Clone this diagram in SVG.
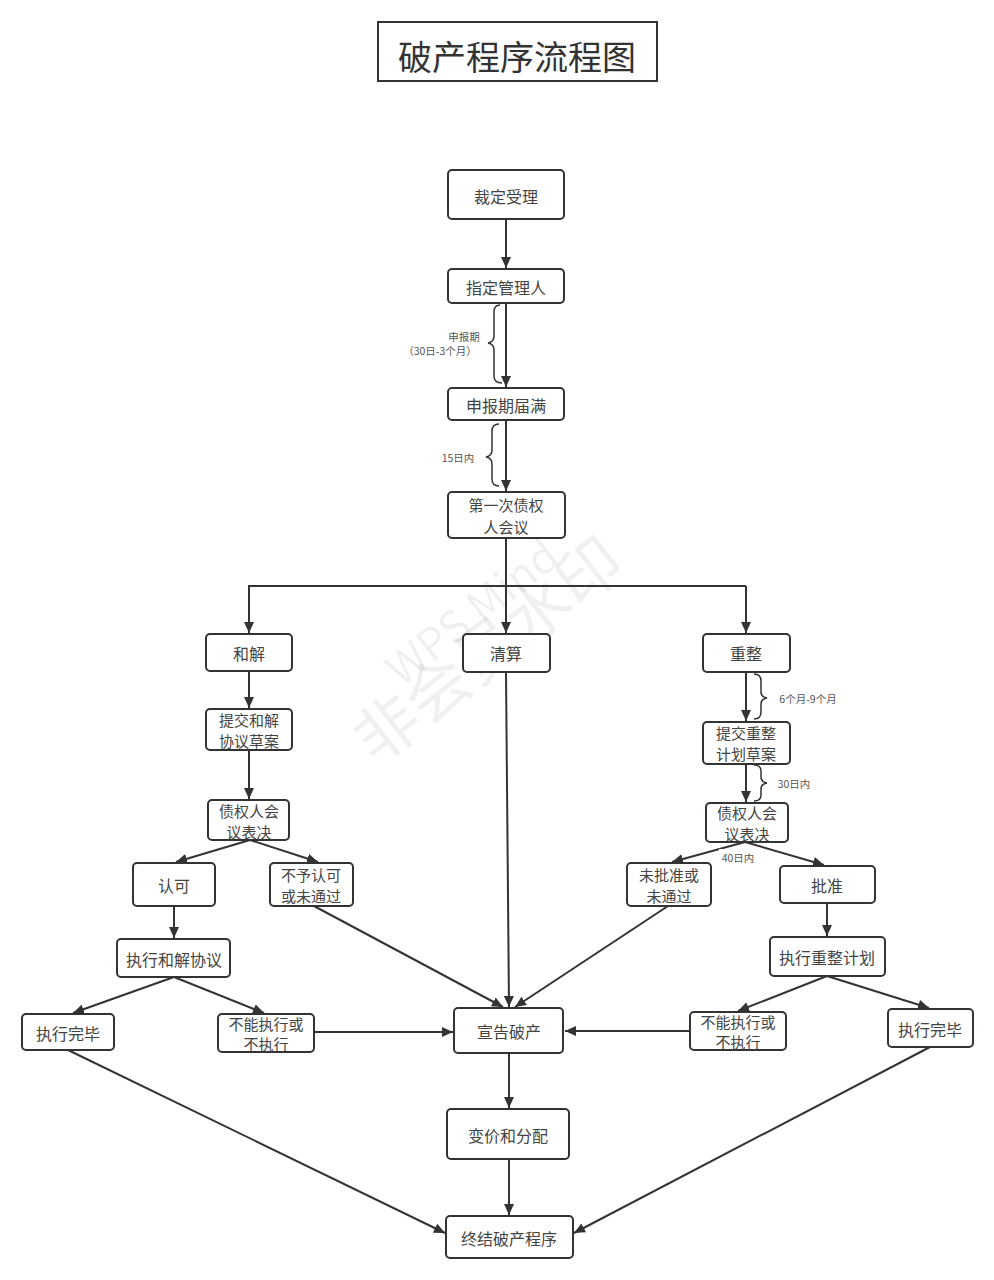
<svg xmlns="http://www.w3.org/2000/svg" width="994" height="1280" viewBox="0 0 994 1280">
<style>
.n rect{fill:#fff;stroke:#333;stroke-width:2}
.n text,.lb{font-family:"Noto Sans CJK SC","Liberation Sans",sans-serif;fill:#444;text-anchor:middle;dominant-baseline:central}
.n text{font-size:16px}
.n text.t{font-size:15px}
.lb{font-size:10.5px;fill:#555}
.c line,.c path{stroke:#333;stroke-width:2;fill:none}
.br{stroke:#333;stroke-width:1.5;fill:none}
.wm{font-family:"Noto Sans CJK SC","Liberation Sans",sans-serif;fill:#000;fill-opacity:0.06;text-anchor:middle}
</style>
<defs>
<marker id="a" markerUnits="userSpaceOnUse" markerWidth="12" markerHeight="10" refX="11" refY="5" orient="auto">
<path d="M0,0 L11,5 L0,10 z" fill="#333"/>
</marker>
</defs>
<rect width="994" height="1280" fill="#fff"/>
<g id="title">
<rect x="378" y="22" width="279" height="59" fill="#fff" stroke="#333" stroke-width="2"/>
<text x="517" y="55" font-family="'Noto Sans CJK SC',sans-serif" font-size="34" fill="#333" text-anchor="middle" dominant-baseline="central">破产程序流程图</text>
</g>
<g id="watermark">
<text class="wm" x="482" y="625" font-size="44" transform="rotate(-38 482 625)">WPS Mind</text>
<text class="wm" x="502" y="668" font-size="64" transform="rotate(-38 502 668)">非会员水印</text>
</g>
<g class="c" id="connectors">
<line x1="506" y1="219" x2="506" y2="268" marker-end="url(#a)"/>
<line x1="506" y1="303" x2="506" y2="387" marker-end="url(#a)"/>
<line x1="506" y1="420" x2="506" y2="491" marker-end="url(#a)"/>
<line x1="506" y1="538" x2="506" y2="633" marker-end="url(#a)"/>
<path d="M249,633 V586 H746"/>
<line x1="249" y1="586" x2="249" y2="633" marker-end="url(#a)"/>
<line x1="746" y1="586" x2="746" y2="633" marker-end="url(#a)"/>
<line x1="249" y1="671" x2="249" y2="708" marker-end="url(#a)"/>
<line x1="249" y1="750" x2="249" y2="799" marker-end="url(#a)"/>
<line x1="746" y1="672" x2="746" y2="721" marker-end="url(#a)"/>
<line x1="746" y1="764" x2="746" y2="802" marker-end="url(#a)"/>
<line x1="250" y1="840" x2="176" y2="862" marker-end="url(#a)"/>
<line x1="250" y1="840" x2="318" y2="862" marker-end="url(#a)"/>
<line x1="174" y1="906" x2="174" y2="938" marker-end="url(#a)"/>
<line x1="174" y1="977" x2="73" y2="1013" marker-end="url(#a)"/>
<line x1="174" y1="977" x2="264" y2="1013" marker-end="url(#a)"/>
<line x1="745" y1="842" x2="672" y2="862" marker-end="url(#a)"/>
<line x1="745" y1="842" x2="824" y2="865" marker-end="url(#a)"/>
<line x1="827" y1="903" x2="827" y2="936" marker-end="url(#a)"/>
<line x1="827" y1="976" x2="738" y2="1011" marker-end="url(#a)"/>
<line x1="827" y1="976" x2="929" y2="1008" marker-end="url(#a)"/>
<line x1="506" y1="672" x2="509" y2="1007" marker-end="url(#a)"/>
<line x1="314" y1="906" x2="503" y2="1007" marker-end="url(#a)"/>
<line x1="668" y1="906" x2="515" y2="1007" marker-end="url(#a)"/>
<line x1="314" y1="1032" x2="453" y2="1032" marker-end="url(#a)"/>
<line x1="690" y1="1031" x2="565" y2="1031" marker-end="url(#a)"/>
<line x1="509" y1="1053" x2="509" y2="1108" marker-end="url(#a)"/>
<line x1="509" y1="1159" x2="509" y2="1215" marker-end="url(#a)"/>
<line x1="68" y1="1050" x2="445" y2="1233" marker-end="url(#a)"/>
<line x1="930" y1="1047" x2="574" y2="1233" marker-end="url(#a)"/>
</g>
<g id="braces">
<path class="br" d="M500,305 Q494,305 494,312 V336 Q494,342 488,343 Q494,344 494,350 V376 Q494,383 502,383"/>
<text class="lb" x="464" y="336">申报期</text>
<text class="lb" x="440" y="350">（30日-3个月）</text>
<path class="br" d="M499,424 Q492,424 492,431 V450 Q492,456 486,457 Q492,458 492,464 V479 Q492,486 499,486"/>
<text class="lb" x="458" y="457">15日内</text>
<path class="br" d="M754,674 Q761,674 761,681 V692 Q761,697 767,698 Q761,699 761,704 V712 Q761,719 754,719"/>
<text class="lb" x="808" y="698">6个月-9个月</text>
<path class="br" d="M754,765 Q761,765 761,771 V777 Q761,782 767,783 Q761,784 761,789 V795 Q761,801 754,801"/>
<text class="lb" x="794" y="783">30日内</text>
<rect x="719" y="849" width="39" height="15" fill="#fff"/>
<text class="lb" x="738" y="857">40日内</text>
</g>
<g class="n" id="n1"><rect x="448" y="170" width="116" height="49" rx="4"/><text x="506" y="196">裁定受理</text></g>
<g class="n" id="n2"><rect x="448" y="269" width="116" height="34" rx="4"/><text x="506" y="287">指定管理人</text></g>
<g class="n" id="n3"><rect x="448" y="388" width="116" height="32" rx="4"/><text x="506" y="405">申报期届满</text></g>
<g class="n" id="n4"><rect x="448" y="492" width="117" height="46" rx="4"/><text class="t" x="506" y="504">第一次债权</text><text class="t" x="506" y="526">人会议</text></g>
<g class="n" id="n5"><rect x="206" y="634" width="86" height="37" rx="4"/><text x="249" y="653">和解</text></g>
<g class="n" id="n6"><rect x="463" y="634" width="87" height="38" rx="4"/><text x="506" y="653">清算</text></g>
<g class="n" id="n7"><rect x="703" y="634" width="87" height="38" rx="4"/><text x="746" y="653">重整</text></g>
<g class="n" id="n8"><rect x="206" y="709" width="86" height="41" rx="4"/><text class="t" x="249" y="719">提交和解</text><text class="t" x="249" y="740">协议草案</text></g>
<g class="n" id="n9"><rect x="703" y="722" width="87" height="42" rx="4"/><text class="t" x="746" y="732">提交重整</text><text class="t" x="746" y="753">计划草案</text></g>
<g class="n" id="n10"><rect x="208" y="800" width="81" height="40" rx="4"/><text class="t" x="249" y="810">债权人会</text><text class="t" x="249" y="831">议表决</text></g>
<g class="n" id="n11"><rect x="706" y="803" width="82" height="39" rx="4"/><text class="t" x="747" y="812">债权人会</text><text class="t" x="747" y="833">议表决</text></g>
<g class="n" id="n12"><rect x="133" y="863" width="82" height="43" rx="4"/><text x="174" y="885">认可</text></g>
<g class="n" id="n13"><rect x="270" y="863" width="83" height="43" rx="4"/><text class="t" x="311" y="874">不予认可</text><text class="t" x="311" y="895">或未通过</text></g>
<g class="n" id="n14"><rect x="627" y="863" width="84" height="43" rx="4"/><text class="t" x="669" y="874">未批准或</text><text class="t" x="669" y="895">未通过</text></g>
<g class="n" id="n15"><rect x="780" y="866" width="95" height="37" rx="4"/><text x="827" y="885">批准</text></g>
<g class="n" id="n16"><rect x="117" y="939" width="113" height="38" rx="4"/><text x="174" y="959">执行和解协议</text></g>
<g class="n" id="n17"><rect x="770" y="937" width="115" height="39" rx="4"/><text x="827" y="957">执行重整计划</text></g>
<g class="n" id="n18"><rect x="22" y="1014" width="92" height="36" rx="4"/><text x="68" y="1033">执行完毕</text></g>
<g class="n" id="n19"><rect x="218" y="1014" width="96" height="38" rx="4"/><text class="t" x="266" y="1023">不能执行或</text><text class="t" x="266" y="1043">不执行</text></g>
<g class="n" id="n20"><rect x="454" y="1008" width="109" height="45" rx="4"/><text x="509" y="1031">宣告破产</text></g>
<g class="n" id="n21"><rect x="690" y="1012" width="96" height="38" rx="4"/><text class="t" x="738" y="1021">不能执行或</text><text class="t" x="738" y="1041">不执行</text></g>
<g class="n" id="n22"><rect x="888" y="1009" width="85" height="38" rx="4"/><text x="930" y="1029">执行完毕</text></g>
<g class="n" id="n23"><rect x="447" y="1109" width="122" height="50" rx="4"/><text x="508" y="1135">变价和分配</text></g>
<g class="n" id="n24"><rect x="446" y="1216" width="127" height="42" rx="4"/><text x="509" y="1238">终结破产程序</text></g>
</svg>
